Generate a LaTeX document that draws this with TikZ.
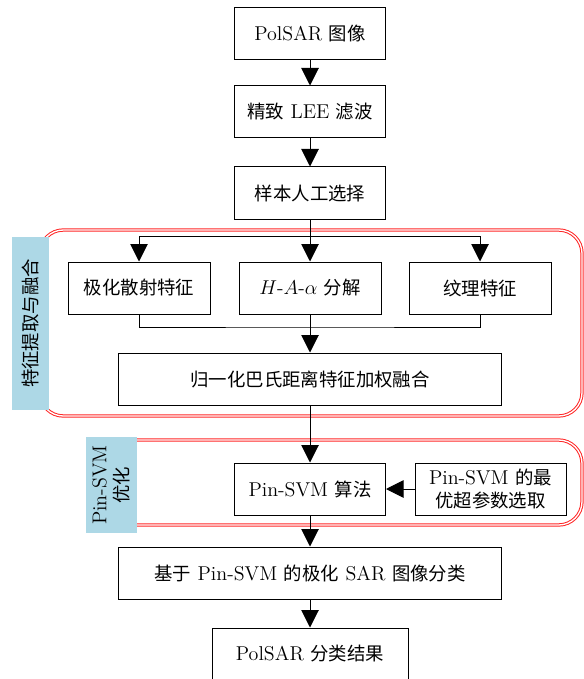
\documentclass[tikz,border=0pt]{standalone}
\usepackage{fontspec}
\newfontfamily\cjk{Noto Sans CJK SC}[Scale=0.92]
\usetikzlibrary{arrows.meta}
\definecolor{tagblue}{RGB}{173,216,230}
\begin{document}
\begin{tikzpicture}[x=0.6pt, y=-0.6pt,
  box/.style={draw, line width=0.6pt, minimum width=90.6pt, minimum height=31.2pt, inner sep=2pt, align=center, font=\fontsize{12pt}{14pt}\selectfont},
  widebox/.style={box, minimum width=229.8pt},
  featbox/.style={box, minimum width=85.2pt},
  flow/.style={line width=0.6pt, -{Triangle[width=10.5pt,length=10.5pt]}},
  link/.style={line width=0.6pt},
  frame/.style={draw=red!85, double=white, double distance=0.8pt, line width=0.6pt, rounded corners=14pt},
  tag/.style={fill=tagblue, rotate=90, inner sep=1pt, align=center, font=\fontsize{12pt}{13pt}\selectfont}]
\useasboundingbox (0,0) rectangle (584,679);
% Draw red frames behind the groups
\draw[frame] (40,230) rectangle (582,416);
\draw[frame] (100,440) rectangle (582,525);
% Draw group tags
\node[tag, minimum width=103.8pt, minimum height=22.2pt] (tagfeat) at (30.5,323.5) {{\cjk 特征提取与融合}};
\node[tag, minimum width=57.6pt, minimum height=30.6pt] (tagsvm) at (111,485) {Pin-SVM\\{\cjk 优化}};
% Draw process boxes
\node[box] (img) at (310,34) {PolSAR {\cjk 图像}};
\node[box] (lee) at (310,112) {{\cjk 精致} LEE {\cjk 滤波}};
\node[box] (sel) at (310,193) {{\cjk 样本人工选择}};
\node[featbox] (pol) at (139,288) {{\cjk 极化散射特征}};
\node[featbox] (haa) at (310,288) {$H$-$A$-$\alpha$ {\cjk 分解}};
\node[featbox] (tex) at (480,288) {{\cjk 纹理特征}};
\node[widebox] (fuse) at (310,379) {{\cjk 归一化巴氏距离特征加权融合}};
\node[box] (svm) at (310,489) {Pin-SVM {\cjk 算法}};
\node[box] (par) at (490.5,489) {Pin-SVM {\cjk 的最}\\{\cjk 优超参数选取}};
\node[widebox] (cls) at (310,573) {{\cjk 基于} Pin-SVM {\cjk 的极化} SAR {\cjk 图像分类}};
\node[box, minimum width=117.6pt] (res) at (310,654) {PolSAR {\cjk 分类结果}};
% Draw connectors
\draw[flow] (img) -- (lee);
\draw[flow] (lee) -- (sel);
\coordinate (split) at (310,236);
\draw[link] (sel) -- (split);
\draw[flow] (split) -| (pol);
\draw[flow] (split) -| (tex);
\draw[flow] (split) -- (haa);
\coordinate (join) at (310,327);
\draw[link] (pol) |- (join) -| (tex);
\draw[link] (haa) -- (join);
\draw[flow] (join) -- (fuse);
\draw[flow] (fuse) -- (svm);
\draw[flow] (par) -- (svm);
\draw[flow] (svm) -- (cls);
\draw[flow] (cls) -- (res);
\end{tikzpicture}
\end{document}
